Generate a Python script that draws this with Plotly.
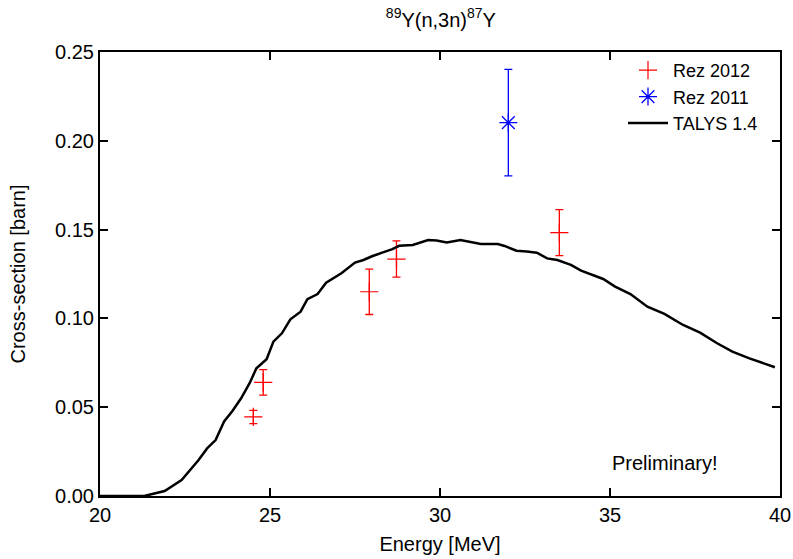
import plotly.graph_objects as go

# Rez 2012 measurements
rez2012_E = [24.51, 24.80, 27.92, 28.72, 33.51]
rez2012_xs = [0.0445, 0.0640, 0.1150, 0.1334, 0.1483]
rez2012_err = [0.0037, 0.0072, 0.0128, 0.0102, 0.0130]

# Rez 2011 measurement
rez2011_E = [32.01]
rez2011_xs = [0.2102]
rez2011_err = [0.0300]

# TALYS 1.4 calculation
talys_E = [20.0, 21.0, 21.3, 21.9, 22.4, 22.9, 23.15, 23.4, 23.65, 23.9, 24.15,
           24.4, 24.6, 24.9, 25.1, 25.35, 25.6, 25.9, 26.1, 26.4, 26.65, 27.1,
           27.5, 27.75, 28.0, 28.3, 28.6, 28.8, 29.2, 29.65, 29.9, 30.2, 30.6,
           31.2, 31.7, 31.9, 32.25, 32.55, 32.85, 33.15, 33.45, 33.85, 34.15,
           34.8, 35.15, 35.6, 36.1, 36.6, 37.15, 37.65, 38.15, 38.6, 39.1, 39.85]
talys_xs = [0.0, 0.0, 0.0, 0.0028, 0.009, 0.0203, 0.0268, 0.0315, 0.042, 0.048,
            0.055, 0.0635, 0.0719, 0.077, 0.0869, 0.0916, 0.0995, 0.1038, 0.1108,
            0.1137, 0.1201, 0.1254, 0.1314, 0.1329, 0.135, 0.137, 0.139, 0.1409,
            0.1413, 0.1441, 0.1438, 0.1428, 0.1441, 0.1419, 0.1419, 0.1408,
            0.1381, 0.1376, 0.1370, 0.1338, 0.1329, 0.1301, 0.1269, 0.1222,
            0.1179, 0.1137, 0.1066, 0.1025, 0.0963, 0.0920, 0.0860, 0.0813,
            0.0775, 0.0725]

FONT = "Liberation Sans, Arial, sans-serif"
FS = 20

fig = go.Figure()
fig.add_trace(go.Scatter(
    x=rez2012_E, y=rez2012_xs, mode="markers", name="Rez 2012",
    marker=dict(symbol="cross-thin-open", size=13, color="#ff0000",
                line=dict(color="#ff0000", width=1.2)),
    error_y=dict(type="data", array=rez2012_err, visible=True,
                 color="#ff0000", thickness=1.3, width=4),
))
fig.add_trace(go.Scatter(
    x=rez2011_E, y=rez2011_xs, mode="markers", name="Rez 2011",
    marker=dict(symbol="asterisk-open", size=15, color="#0000ff",
                line=dict(color="#0000ff", width=1.3)),
    error_y=dict(type="data", array=rez2011_err, visible=True,
                 color="#0000ff", thickness=1.3, width=4),
))
fig.add_trace(go.Scatter(
    x=talys_E, y=talys_xs, mode="lines", name="TALYS 1.4",
    line=dict(color="black", width=2.5),
))

fig.add_annotation(x=35.0, y=0.0186, xref="x", yref="y", text="Preliminary!",
                   showarrow=False, xanchor="left", yanchor="middle",
                   font=dict(size=FS, color="black", family=FONT))

axis_common = dict(
    showline=True, linecolor="black", linewidth=2, mirror="ticks",
    ticks="inside", ticklen=8, tickwidth=1.5, tickcolor="black",
    showgrid=False, zeroline=False, automargin=False,
    tickfont=dict(size=FS, color="black", family=FONT),
)

fig.update_layout(
    width=793, height=559,
    margin=dict(l=100, r=13, t=52, b=63),
    paper_bgcolor="white", plot_bgcolor="white",
    font=dict(family=FONT, size=FS, color="black"),
    title=dict(text="<sup>89</sup>Y(n,3n)<sup>87</sup>Y", x=0.556, xanchor="center",
               y=0.965, yanchor="middle", font=dict(size=FS, color="black", family=FONT)),
    xaxis=dict(range=[20, 40], dtick=5, tick0=20,
               title=dict(text="Energy [MeV]", standoff=12,
                          font=dict(size=FS, family=FONT)),
               **axis_common),
    yaxis=dict(range=[0, 0.25], dtick=0.05, tick0=0, tickformat=".2f",
               title=dict(text="Cross-section [barn]", standoff=24,
                          font=dict(size=FS, family=FONT)),
               **axis_common),
    legend=dict(x=0.975, y=1.0, xanchor="right", yanchor="top",
                bgcolor="rgba(0,0,0,0)", borderwidth=0,
                font=dict(size=18, family=FONT), tracegroupgap=0,
                itemwidth=40),
    showlegend=True,
)

fig.write_html("out.html")
